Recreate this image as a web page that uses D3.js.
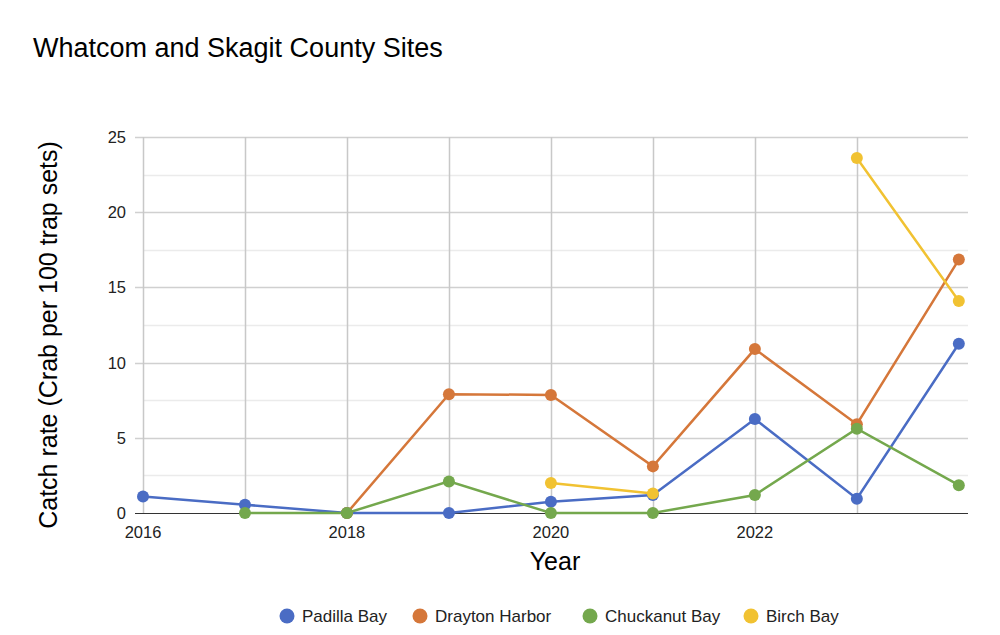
<!DOCTYPE html>
<html>
<head>
  <meta charset="utf-8">
  <title>Whatcom and Skagit County Sites</title>
  <style>
    body {margin:0; background:#fff;}
    svg text {font-family: "Liberation Sans", Arial, sans-serif; fill:#222;}
  </style>
</head>
<body>
<script src="https://cdn.jsdelivr.net/npm/d3@7"></script>
<script>
  var width = 1000,
      height = 635;

  var years = [2016, 2017, 2018, 2019, 2020, 2021, 2022, 2023, 2024];
  var xTicks = [2016, 2018, 2020, 2022];
  var yTicks = [0, 5, 10, 15, 20, 25];

  var names  = ['Padilla Bay', 'Drayton Harbor', 'Chuckanut Bay', 'Birch Bay'];
  var colors = ['#4a6cc4', '#d5773a', '#74a84d', '#f1c232'];

  var padilla   = [1.1, 0.55, 0, 0, 0.75, 1.2, 6.25, 0.95, 11.25];
  var drayton   = [null, null, 0, 7.9, 7.85, 3.1, 10.9, 5.9, 16.85];
  var chuckanut = [null, 0, 0, 2.1, 0, 0, 1.2, 5.6, 1.85];
  var birch     = [null, null, null, null, 2.0, 1.3, null, 23.6, 14.1];

  var series = [padilla, drayton, chuckanut, birch];

  var plotLeft = 143, plotRight = 968, plotTop = 137, plotBottom = 513;

  var x = d3.scaleLinear()
    .domain([2016, 2024.09])
    .range([plotLeft, plotRight]);

  var y = d3.scaleLinear()
    .domain([0, 25])
    .range([plotBottom, plotTop]);

  var svg = d3.select('body')
    .append('svg')
    .attr('width', width)
    .attr('height', height);

  svg.append('text')
    .attr('x', 33)
    .attr('y', 57)
    .style('font-size', '27px')
    .style('fill', '#000')
    .text('Whatcom and Skagit County Sites');

  // minor horizontal grid
  svg.append('g')
    .selectAll('line')
    .data(d3.range(2.5, 25, 5))
    .join('line')
    .attr('x1', plotLeft).attr('x2', plotRight)
    .attr('y1', function(d){ return Math.round(y(d)) + 0.5; })
    .attr('y2', function(d){ return Math.round(y(d)) + 0.5; })
    .attr('stroke', '#ebebeb')
    .attr('stroke-width', 1.5);

  // major horizontal grid
  svg.append('g')
    .selectAll('line')
    .data(yTicks.slice(1))
    .join('line')
    .attr('x1', plotLeft - 8).attr('x2', plotRight)
    .attr('y1', function(d){ return Math.round(y(d)) + 0.5; })
    .attr('y2', function(d){ return Math.round(y(d)) + 0.5; })
    .attr('stroke', '#d0d0d0')
    .attr('stroke-width', 1.5);

  // vertical grid
  svg.append('g')
    .selectAll('line')
    .data(years.slice(0, 8))
    .join('line')
    .attr('x1', function(d){ return Math.round(x(d)) + 0.5; })
    .attr('x2', function(d){ return Math.round(x(d)) + 0.5; })
    .attr('y1', plotTop).attr('y2', plotBottom)
    .attr('stroke', '#c8c8c8')
    .attr('stroke-width', 1.5);

  // baseline
  svg.append('line')
    .attr('x1', plotLeft - 8).attr('x2', plotRight)
    .attr('y1', plotBottom + 0.5).attr('y2', plotBottom + 0.5)
    .attr('stroke', '#333')
    .attr('stroke-width', 1.2);

  // y tick labels
  svg.append('g')
    .selectAll('text')
    .data(yTicks)
    .join('text')
    .attr('x', 126)
    .attr('y', function(d){ return y(d) + 6; })
    .attr('text-anchor', 'end')
    .style('font-size', '16.5px')
    .text(function(d){ return d; });

  // x tick labels
  svg.append('g')
    .selectAll('text')
    .data(xTicks)
    .join('text')
    .attr('x', function(d){ return x(d); })
    .attr('y', 538)
    .attr('text-anchor', 'middle')
    .style('font-size', '16.5px')
    .text(function(d){ return d; });

  // axis titles
  svg.append('text')
    .attr('x', 555)
    .attr('y', 570)
    .attr('text-anchor', 'middle')
    .style('font-size', '25px')
    .style('fill', '#000')
    .text('Year');

  svg.append('text')
    .attr('transform', 'translate(57,335) rotate(-90)')
    .attr('text-anchor', 'middle')
    .style('font-size', '25px')
    .style('fill', '#000')
    .text('Catch rate (Crab per 100 trap sets)');

  var line = d3.line()
    .defined(function(d){ return d.v != null; })
    .x(function(d){ return x(d.year); })
    .y(function(d){ return y(d.v); });

  series.forEach(function(vals, i){
    var pts = vals.map(function(v, j){ return {year: years[j], v: v}; });
    var g = svg.append('g');

    g.append('path')
      .datum(pts)
      .attr('d', line)
      .attr('fill', 'none')
      .attr('stroke', colors[i])
      .attr('stroke-width', 2.5);

    g.selectAll('circle')
      .data(pts.filter(function(d){ return d.v != null; }))
      .join('circle')
      .attr('cx', function(d){ return x(d.year); })
      .attr('cy', function(d){ return y(d.v); })
      .attr('r', 6)
      .attr('fill', colors[i]);
  });

  // legend
  var legendX = [287, 420, 590, 751];
  var legend = svg.append('g')
    .selectAll('g')
    .data(names)
    .join('g')
    .attr('transform', function(d, i){ return 'translate(' + legendX[i] + ',616)'; });

  legend.append('circle')
    .attr('r', 7.5)
    .attr('fill', function(d, i){ return colors[i]; });

  legend.append('text')
    .attr('x', 15)
    .attr('y', 6)
    .style('font-size', '17px')
    .text(function(d){ return d; });
</script>
</body>
</html>
